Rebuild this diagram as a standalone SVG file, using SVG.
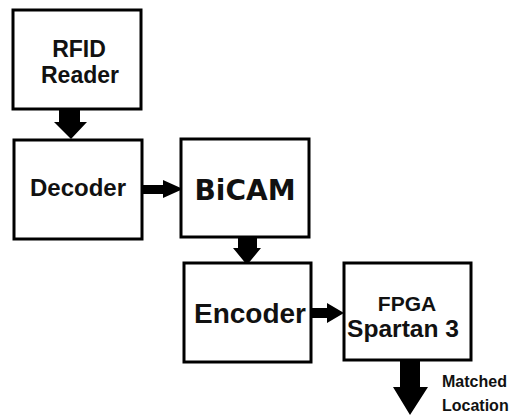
<svg xmlns="http://www.w3.org/2000/svg" width="511" height="415" viewBox="0 0 511 415">
<style>
.box{fill:#fff;stroke:#000;stroke-width:3}
.t{font-family:"Liberation Sans",Arial,sans-serif;font-weight:bold;fill:#111;text-anchor:middle}
.w{font-family:"DejaVu Sans",Verdana,sans-serif;font-weight:bold;fill:#111;text-anchor:middle}
.arr{fill:#000}
</style>
<rect width="511" height="415" fill="#fff"/>
<g id="connectors">
<polygon class="arr" points="59,110 80,110 80,122 87,122 71,139 54,122 59,122"/>
<polygon class="arr" points="143,185 163,185 163,180 183,189 163,198 163,194 143,194"/>
<polygon class="arr" points="238,238 257,238 257,248 261,248 247,265 233,248 238,248"/>
<polygon class="arr" points="312,308 327,308 327,303 344,313 327,323 327,318 312,318"/>
<polygon class="arr" points="400,361 420,361 420,387 428,387 410,415 393,387 400,387"/>
</g>
<g id="rfid">
<rect class="box" x="13" y="10" width="128" height="99"/>
<text class="t" x="79" y="57" font-size="23">RFID</text>
<text class="t" x="80" y="83" font-size="23">Reader</text>
</g>
<g id="decoder">
<rect class="box" x="14" y="140" width="128" height="99"/>
<text class="t" x="78" y="196" font-size="24">Decoder</text>
</g>
<g id="bicam">
<rect class="box" x="181" y="139" width="128" height="98"/>
<text class="w" x="245" y="200" font-size="28">BiCAM</text>
</g>
<g id="encoder">
<rect class="box" x="184" y="263" width="127" height="99"/>
<text class="t" x="250" y="323" font-size="28">Encoder</text>
</g>
<g id="fpga">
<rect class="box" x="344" y="263" width="127" height="97"/>
<text class="t" x="407" y="311" font-size="21">FPGA</text>
<text class="t" x="403" y="337" font-size="23" textLength="112" lengthAdjust="spacingAndGlyphs">Spartan 3</text>
</g>
<g id="output-label">
<text class="t" x="442" y="387" font-size="16" style="text-anchor:start">Matched</text>
<text class="t" x="442" y="411" font-size="16" style="text-anchor:start">Location</text>
</g>
</svg>
